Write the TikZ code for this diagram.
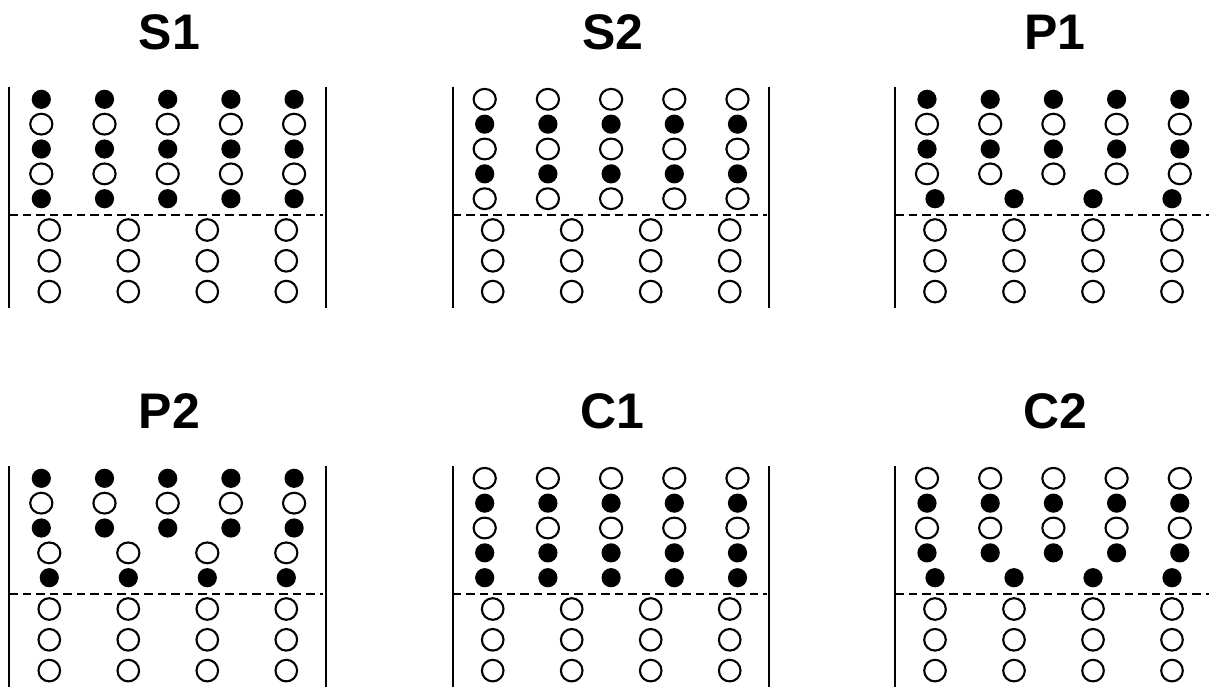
\documentclass[tikz,border=0pt]{standalone}
\usepackage{fontspec}
\setmainfont{Liberation Sans}
\begin{document}
\begin{tikzpicture}[x=1pt, y=-1pt, line width=2pt,
    title/.style={font=\bfseries\fontsize{50}{60}\selectfont, anchor=base},
    full/.style={fill=black},
    empty/.style={draw=black, line width=2.1pt},
    divider/.style={dash pattern=on 8.5pt off 5pt}]
  \useasboundingbox (0,0) rectangle (1210,688);
  \clip (0,0) rectangle (1210,688);

  \foreach \name/\px/\py/\rows in {S1/0/0/{1,0,1,0,1}, S2/443.4/0/{0,1,0,1,0}, P1/885.7/0/{1,0,1,0,3},
      P2/0/379/{1,0,1,2,3}, C1/443.4/379/{0,1,0,1,1}, C2/885.7/379/{0,1,0,1,3}} {
    \begin{scope}[shift={(\px+9.3,\py)}]
      \node[title] (t\name) at (160,49.3) {\name};
      \draw (0,86.7) -- (0,308);
      \draw (316.4,86.7) -- (316.4,308);
      \draw[divider] (0,215) -- (314,215);

      % upper rows: 0/1 open/full on five columns, 2/3 open/full on four
      \foreach \r [count=\k from 0] in \rows {
        \ifnum\r<2 \def\ncol{4}\def\dx{63.2}\def\xs{32}\else \def\ncol{3}\def\dx{79}\def\xs{40}\fi
        \ifodd\r \def\sty{full}\def\rx{9.6pt}\def\ry{9.6pt}\else \def\sty{empty}\def\rx{11.1pt}\def\ry{10.4pt}\fi
        \foreach \c in {0,...,\ncol}
          \path[\sty] (\xs+\dx*\c, 99.3+24.85*\k) ellipse [x radius=\rx, y radius=\ry];
      }

      % lower rows
      \foreach \c in {0,...,3}
        \foreach \m in {0,1,2}
          \draw[empty] (40+79*\c, 230+30.8*\m) circle (10.8pt);
    \end{scope}
  }
\end{tikzpicture}
\end{document}
